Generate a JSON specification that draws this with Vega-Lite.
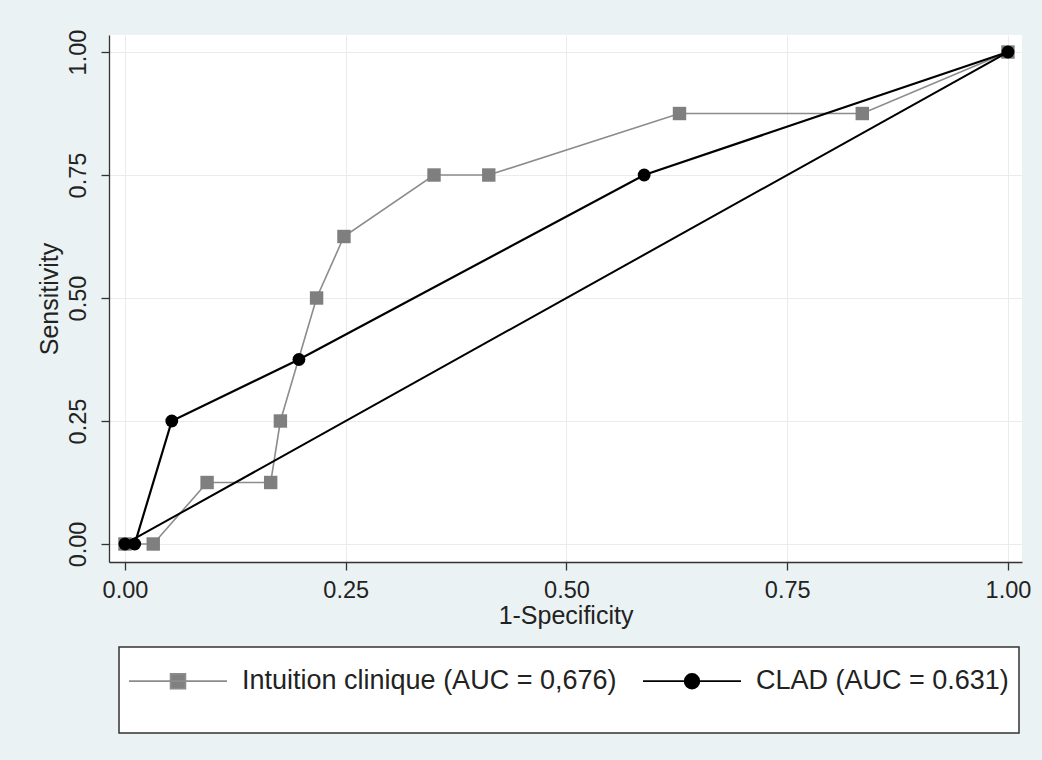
{
  "$schema": "https://vega.github.io/schema/vega-lite/v6.json",
  "autosize": "none",
  "width": 913,
  "height": 527,
  "padding": {"left": 109, "top": 35, "right": 20, "bottom": 198},
  "background": "#EAF2F3",
  "config": {
    "view": {"fill": "#FFFFFF", "stroke": null},
    "font": "Liberation Sans",
    "axis": {
      "grid": true,
      "gridColor": "#EBEBEB",
      "gridWidth": 1,
      "domainColor": "#333333",
      "domainWidth": 1.3,
      "tickColor": "#333333",
      "tickWidth": 1.3,
      "tickSize": 8,
      "labelFontSize": 23.5,
      "labelColor": "#222222",
      "titleFontSize": 25,
      "titleColor": "#222222",
      "titleFontWeight": "normal",
      "labelFlush": false
    }
  },
  "datasets": {
    "roc": [
      {"model": "Intuition clinique (AUC = 0,676)", "i": 0, "fpr": 0.0, "tpr": 0.0},
      {"model": "Intuition clinique (AUC = 0,676)", "i": 1, "fpr": 0.032, "tpr": 0.0},
      {"model": "Intuition clinique (AUC = 0,676)", "i": 2, "fpr": 0.093, "tpr": 0.125},
      {"model": "Intuition clinique (AUC = 0,676)", "i": 3, "fpr": 0.165, "tpr": 0.125},
      {"model": "Intuition clinique (AUC = 0,676)", "i": 4, "fpr": 0.176, "tpr": 0.25},
      {"model": "Intuition clinique (AUC = 0,676)", "i": 5, "fpr": 0.217, "tpr": 0.5},
      {"model": "Intuition clinique (AUC = 0,676)", "i": 6, "fpr": 0.248, "tpr": 0.625},
      {"model": "Intuition clinique (AUC = 0,676)", "i": 7, "fpr": 0.35, "tpr": 0.75},
      {"model": "Intuition clinique (AUC = 0,676)", "i": 8, "fpr": 0.412, "tpr": 0.75},
      {"model": "Intuition clinique (AUC = 0,676)", "i": 9, "fpr": 0.628, "tpr": 0.875},
      {"model": "Intuition clinique (AUC = 0,676)", "i": 10, "fpr": 0.835, "tpr": 0.875},
      {"model": "Intuition clinique (AUC = 0,676)", "i": 11, "fpr": 1.0, "tpr": 1.0},
      {"model": "CLAD (AUC = 0.631)", "i": 0, "fpr": 0.0, "tpr": 0.0},
      {"model": "CLAD (AUC = 0.631)", "i": 1, "fpr": 0.011, "tpr": 0.0},
      {"model": "CLAD (AUC = 0.631)", "i": 2, "fpr": 0.053, "tpr": 0.25},
      {"model": "CLAD (AUC = 0.631)", "i": 3, "fpr": 0.197, "tpr": 0.375},
      {"model": "CLAD (AUC = 0.631)", "i": 4, "fpr": 0.588, "tpr": 0.75},
      {"model": "CLAD (AUC = 0.631)", "i": 5, "fpr": 1.0, "tpr": 1.0}
    ],
    "ref": [
      {"fpr": 0.0, "tpr": 0.0},
      {"fpr": 1.0, "tpr": 1.0}
    ]
  },
  "encoding": {
    "x": {
      "field": "fpr",
      "type": "quantitative",
      "scale": {"domain": [-0.0181, 1.0159], "nice": false, "zero": false},
      "axis": {"title": "1-Specificity", "values": [0, 0.25, 0.5, 0.75, 1], "format": ".2f", "labelPadding": 8, "titlePadding": 2}
    },
    "y": {
      "field": "tpr",
      "type": "quantitative",
      "scale": {"domain": [-0.0366, 1.0346], "nice": false, "zero": false},
      "axis": {"title": "Sensitivity", "values": [0, 0.25, 0.5, 0.75, 1], "format": ".2f", "labelAngle": -90, "labelAlign": "center", "labelBaseline": "bottom", "labelPadding": 11, "titlePadding": 4}
    }
  },
  "layer": [
    {
      "data": {"name": "roc"},
      "transform": [{"filter": "datum.model == 'Intuition clinique (AUC = 0,676)'"}],
      "mark": {"type": "line", "strokeWidth": 1.6},
      "encoding": {
        "order": {"field": "i", "type": "quantitative"},
        "color": {
          "field": "model",
          "type": "nominal",
          "scale": {"domain": ["Intuition clinique (AUC = 0,676)", "CLAD (AUC = 0.631)"], "range": ["#8C8C8C", "#000000"]},
          "legend": {
            "title": null,
            "orient": "none",
            "legendX": 10,
            "legendY": 612,
            "direction": "horizontal",
            "fillColor": "#FFFFFF",
            "strokeColor": "#333333",
            "padding": 10,
            "cornerRadius": 0,
            "symbolSize": 2116,
            "symbolStrokeWidth": 1.8,
            "symbolOffset": 25,
            "symbolType": "M-2.13,0L2.13,0",
            "labelFontSize": 27,
            "labelColor": "#222222",
            "labelOffset": 40,
            "labelLimit": 600,
            "columnPadding": 22,
            "encode": {
              "legend": {"update": {"strokeWidth": {"value": 1.5}}},
              "symbols": {
                "update": {
                  "size": {"value": 2116},
                  "strokeWidth": {"value": 1.8},
                  "shape": {"signal": "datum.value == 'CLAD (AUC = 0.631)' ? 'M0,-1.043M0,1.65M-2.13,0L2.13,0M0.32,0A0.32,0.32,0,1,1,-0.32,0A0.32,0.32,0,1,1,0.32,0Z' : 'M0,-1.043M0,1.65M-2.13,0L2.13,0M-0.32,-0.32L0.32,-0.32L0.32,0.32L-0.32,0.32Z'"},
                  "fill": {"signal": "datum.value == 'CLAD (AUC = 0.631)' ? '#000000' : '#808080'"},
                  "stroke": {"signal": "datum.value == 'CLAD (AUC = 0.631)' ? '#000000' : '#8C8C8C'"},
                  "opacity": {"value": 1},
                  "fillOpacity": {"value": 1}
                }
              }
            }
          }
        }
      }
    },
    {
      "data": {"name": "roc"},
      "transform": [{"filter": "datum.model == 'Intuition clinique (AUC = 0,676)'"}],
      "mark": {"type": "point", "shape": "square", "filled": true, "size": 180, "color": "#7F7F7F", "opacity": 1}
    },
    {
      "data": {"name": "roc"},
      "transform": [{"filter": "datum.model == 'CLAD (AUC = 0.631)'"}],
      "mark": {"type": "line", "strokeWidth": 2.2},
      "encoding": {
        "order": {"field": "i", "type": "quantitative"},
        "color": {"field": "model", "type": "nominal"}
      }
    },
    {
      "data": {"name": "roc"},
      "transform": [{"filter": "datum.model == 'CLAD (AUC = 0.631)'"}],
      "mark": {"type": "point", "shape": "circle", "filled": true, "size": 165, "color": "#000000", "opacity": 1}
    },
    {
      "data": {"name": "ref"},
      "mark": {"type": "line", "color": "#000000", "strokeWidth": 2},
      "encoding": {}
    }
  ]
}
